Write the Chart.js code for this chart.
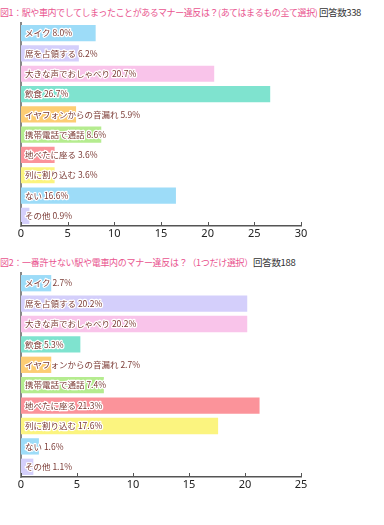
<!DOCTYPE html>
<html>
<head>
<meta charset="utf-8">
<script src="https://cdn.jsdelivr.net/npm/chart.js@4"></script>
<style>
body { margin: 0; background: #fff; width: 384px; height: 525px; position: relative; overflow: hidden; font-family: "Noto Sans CJK JP", sans-serif; }
.title { position: absolute; left: 0; white-space: nowrap; font-size: 9px; color: #e9558f; letter-spacing: -0.3px; }
.title span { color: #333; font-size: 9.5px; }
.box { position: absolute; left: 0; width: 384px; }
</style>
</head>
<body>
<div class="title" style="top:5px;letter-spacing:-0.42px">図1：駅や車内でしてしまったことがあるマナー違反は？(あてはまるもの全て選択)<span> 回答数338</span></div>
<div class="box" style="top:15px;height:233px"><canvas id="chart1"></canvas></div>
<div class="title" style="top:255px">図2：一番許せない駅や電車内のマナー違反は？（1つだけ選択）<span>回答数188</span></div>
<div class="box" style="top:265px;height:235px"><canvas id="chart2"></canvas></div>
<script>
const categories = ['メイク', '席を占領する', '大きな声でおしゃべり', '飲食', 'イヤフォンからの音漏れ', '携帯電話で通話', '地べたに座る', '列に割り込む', 'ない', 'その他'];
const values1 = [8.0, 6.2, 20.7, 26.7, 5.9, 8.6, 3.6, 3.6, 16.6, 0.9];
const values2 = [2.7, 20.2, 20.2, 5.3, 2.7, 7.4, 21.3, 17.6, 1.6, 1.1];
const ticks1 = [0, 5, 10, 15, 20, 25, 30];
const ticks2 = [0, 5, 10, 15, 20, 25];
const barColors = ['#9ddcf8', '#d4cffb', '#f9c4ea', '#7fe3cf', '#fdcd73', '#b5ec8f', '#fb939a', '#fbf47f', '#9ddcf8', '#d4cffb'];

// labels written inside the bars, with a white halo
const barLabels = {
    id: 'barLabels',
    afterDatasetsDraw(chart) {
        const ctx = chart.ctx;
        const meta = chart.getDatasetMeta(0);
        const vals = chart.data.datasets[0].data;
        ctx.save();
        ctx.font = '8.5px "Noto Sans CJK JP"';
        ctx.textBaseline = 'middle';
        ctx.lineJoin = 'round';
        meta.data.forEach((bar, i) => {
            const text = chart.data.labels[i] + ' ' + vals[i].toFixed(1) + '%';
            const x = chart.chartArea.left + 4;
            ctx.strokeStyle = '#fff';
            ctx.lineWidth = 2.5;
            ctx.strokeText(text, x, bar.y);
            ctx.fillStyle = '#7b3b35';
            ctx.fillText(text, x, bar.y);
        });
        ctx.restore();
    }
};

// short tick marks pointing up from the x axis
const innerTicks = {
    id: 'innerTicks',
    afterDraw(chart) {
        const ctx = chart.ctx;
        const scale = chart.scales.x;
        const bottom = chart.chartArea.bottom;
        ctx.save();
        ctx.strokeStyle = '#555';
        ctx.lineWidth = 1;
        scale.ticks.forEach(t => {
            const px = Math.round(scale.getPixelForValue(t.value)) + 0.5;
            ctx.beginPath();
            ctx.moveTo(px, bottom);
            ctx.lineTo(px, bottom - 4);
            ctx.stroke();
        });
        ctx.restore();
    }
};

function makeChart(id, values, ticks, topPad, xHeight) {
    const ctx = document.getElementById(id).getContext('2d');
    return new Chart(ctx, {
        type: 'bar',
        data: {
            labels: categories,
            datasets: [{
                data: values,
                backgroundColor: barColors,
                borderWidth: 0,
                categoryPercentage: 0.8,
                barPercentage: 1.0
            }]
        },
        options: {
            indexAxis: 'y',
            responsive: true,
            maintainAspectRatio: false,
            animation: false,
            layout: { padding: { top: topPad, right: 83, left: 0, bottom: 0 } },
            plugins: {
                legend: { display: false },
                tooltip: { enabled: false }
            },
            scales: {
                x: {
                    min: ticks[0],
                    max: ticks[ticks.length - 1],
                    grid: { display: false, drawTicks: false, tickLength: 0 },
                    border: { display: true, color: '#555', width: 1.5 },
                    ticks: {
                        stepSize: ticks[1] - ticks[0],
                        color: '#222',
                        padding: 1,
                        font: { family: 'Noto Sans', size: 11 }
                    },
                    afterFit(scale) { scale.height = xHeight; }
                },
                y: {
                    grid: { display: false },
                    border: { display: true, color: '#888', width: 2 },
                    ticks: { display: false },
                    afterFit(scale) { scale.width = 21; }
                }
            }
        },
        plugins: [barLabels, innerTicks]
    });
}

makeChart('chart1', values1, ticks1, 8, 22);
makeChart('chart2', values2, ticks2, 8, 23);
</script>
</body>
</html>
